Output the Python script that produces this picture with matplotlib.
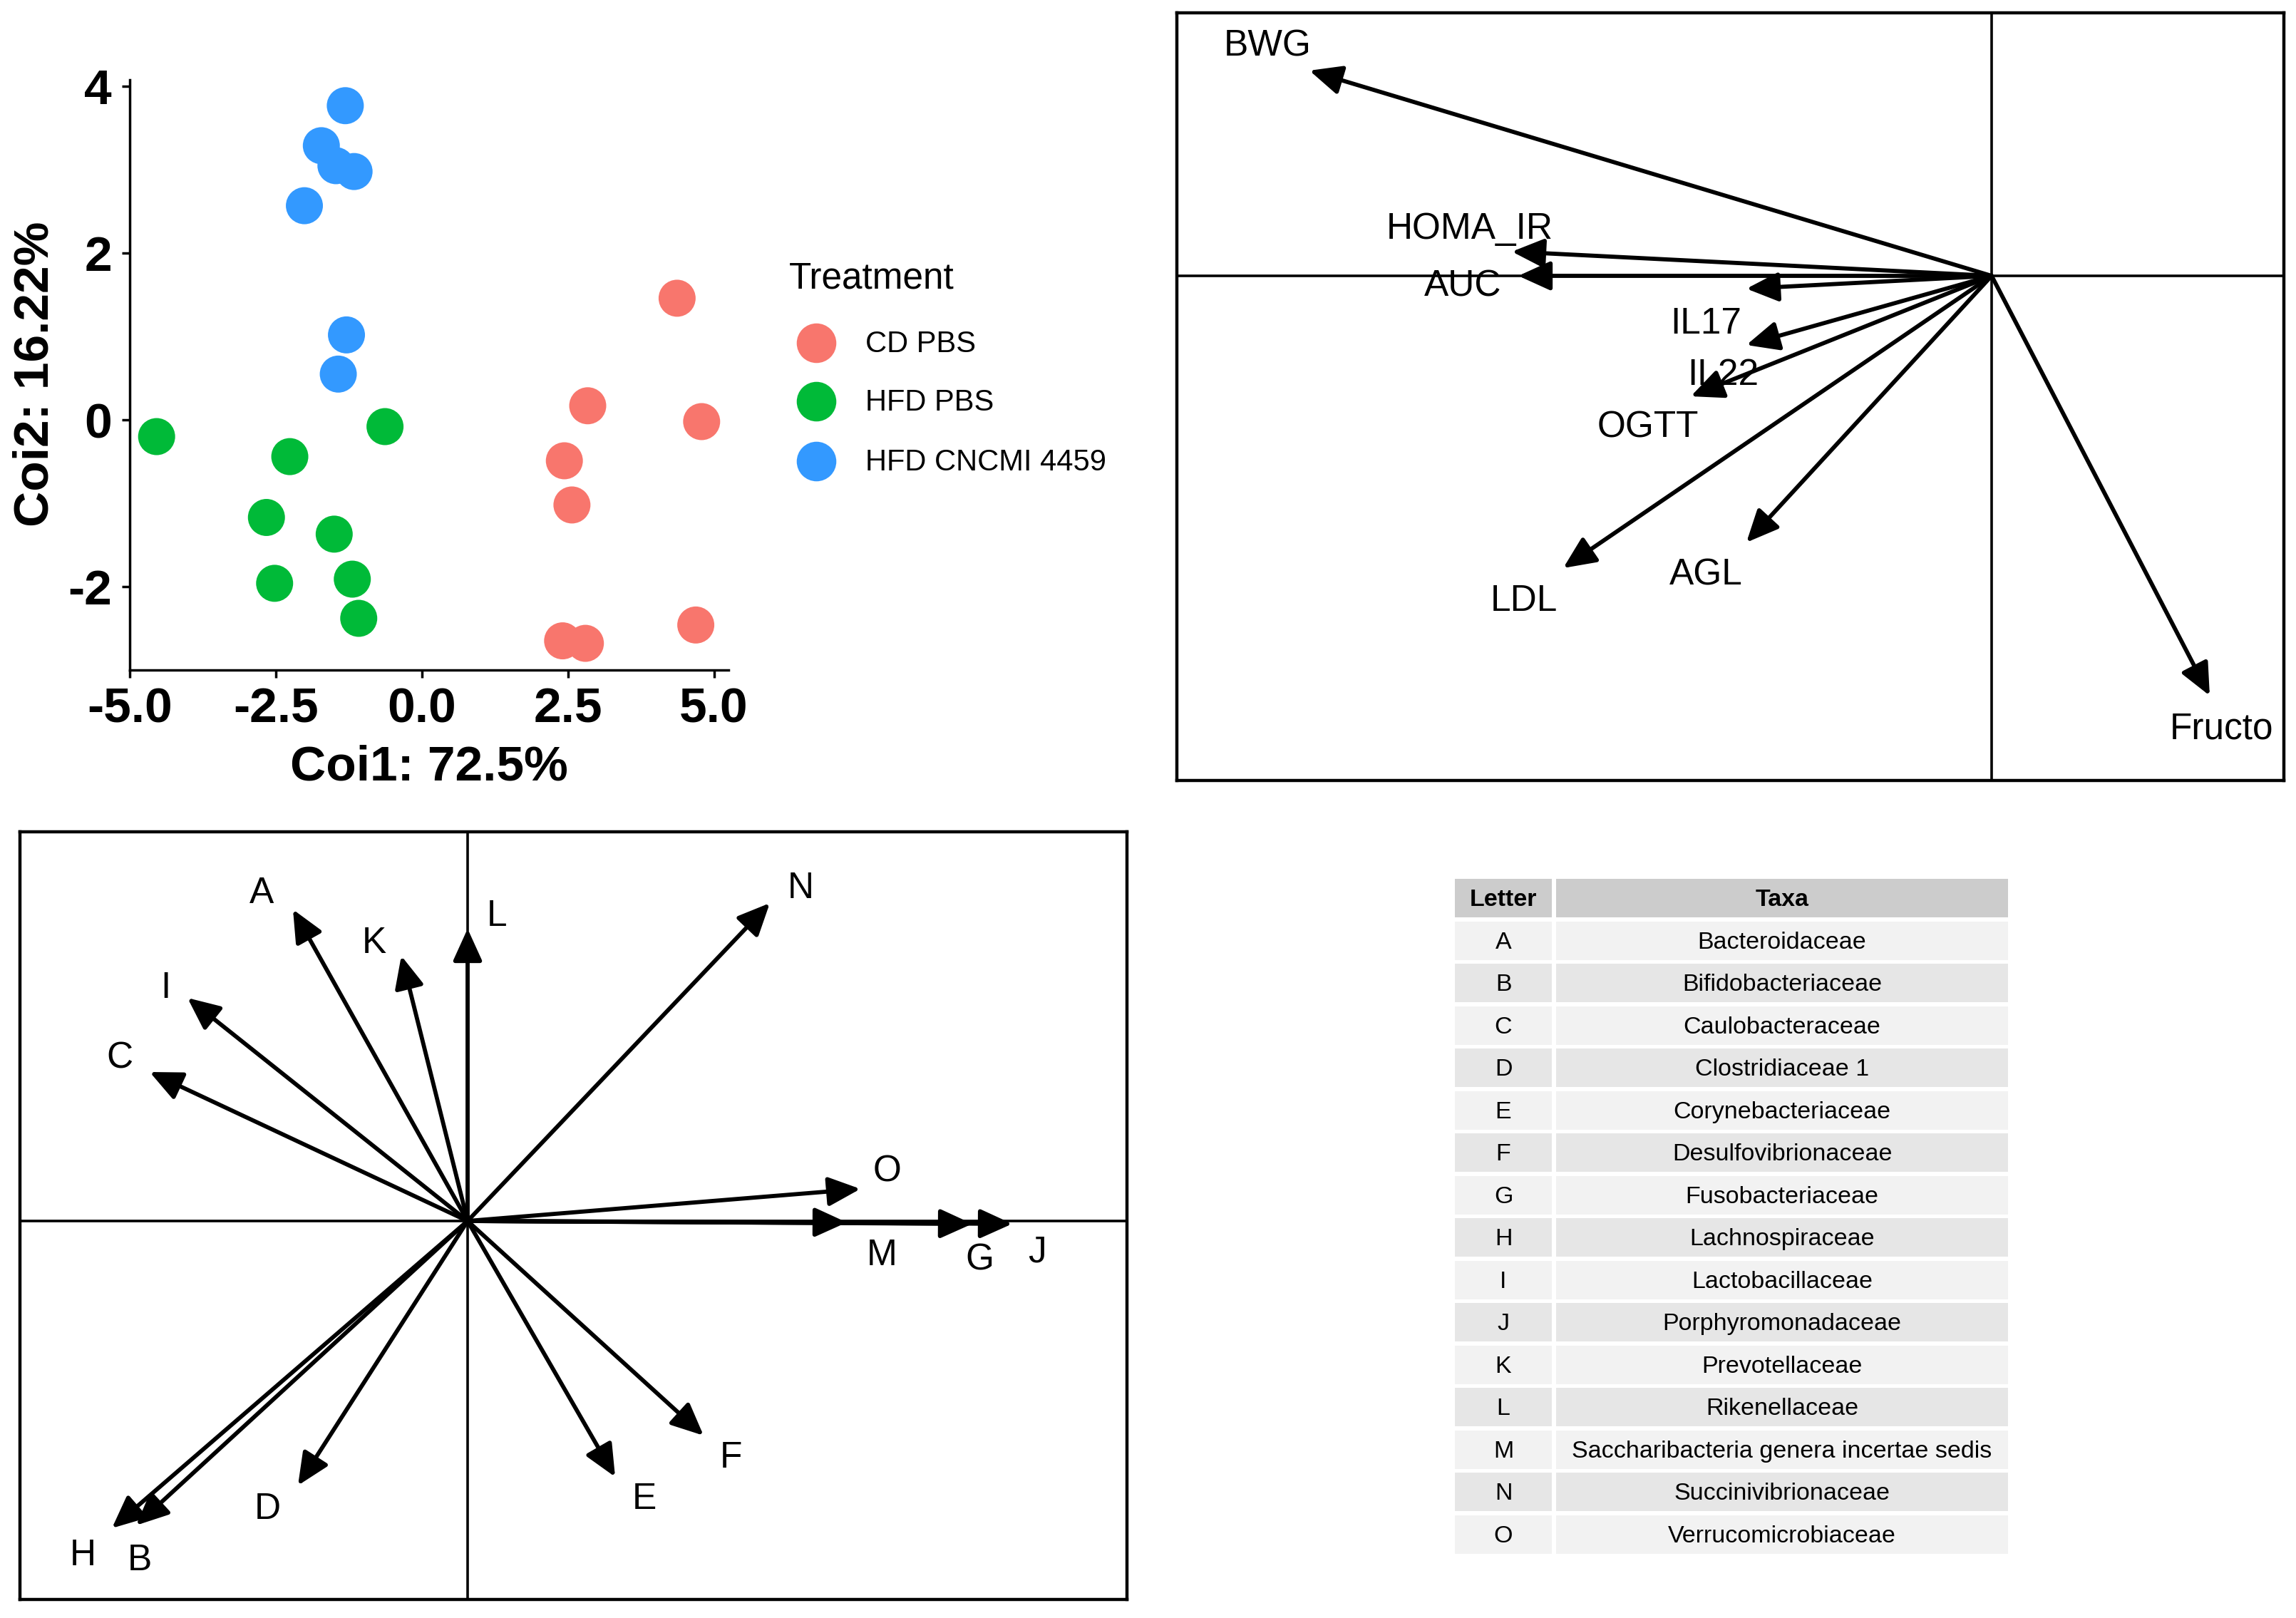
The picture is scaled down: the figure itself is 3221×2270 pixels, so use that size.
import matplotlib
matplotlib.use('Agg')
import matplotlib.pyplot as plt
from matplotlib.patches import Rectangle, FancyArrowPatch
from matplotlib.lines import Line2D
import matplotlib.transforms as mtransforms

W, H = 3221, 2270
plt.rcParams['font.family'] = ['Liberation Sans', 'DejaVu Sans']

# ---------------- data: co-inertia scores ----------------
groups = ['CD PBS', 'HFD PBS', 'HFD CNCMI 4459']
group_colors = ['#F8766D', '#00BA38', '#3399FF']
cd_x = [4.37, 2.84, 4.79, 2.44, 2.57, 4.69, 2.41, 2.80]
cd_y = [1.46, 0.17, -0.02, -0.49, -1.02, -2.46, -2.65, -2.68]
hfd_x = [-4.54, -2.26, -0.63, -2.66, -1.50, -2.52, -1.19, -1.08]
hfd_y = [-0.20, -0.44, -0.08, -1.17, -1.37, -1.96, -1.91, -2.38]
probio_x = [-1.31, -1.72, -1.47, -1.16, -2.01, -1.29, -1.43]
probio_y = [3.77, 3.29, 3.05, 2.98, 2.57, 1.02, 0.55]
x_ticks = [-5.0, -2.5, 0.0, 2.5, 5.0]
y_ticks = [-2, 0, 2, 4]

# ---------------- data: metabolic variable loadings ----------------
meta_names = ['BWG', 'HOMA_IR', 'AUC', 'IL17', 'IL22', 'OGTT', 'LDL', 'AGL', 'Fructo']
meta_x = [-2.3925, -1.6825, -1.66, -0.86, -0.86, -1.055, -1.5025, -0.86, 0.765]
meta_y = [0.72, 0.085, 0.0, -0.045, -0.2425, -0.4225, -1.025, -0.935, -1.4725]

# ---------------- data: taxa loadings ----------------
taxa_letters = ['A', 'B', 'C', 'D', 'E', 'F', 'G', 'H', 'I', 'J', 'K', 'L', 'M', 'N', 'O']
taxa_x = [-0.6125, -1.1625, -1.115, -0.595, 0.5175, 0.8275, 1.77, -1.2475, -0.9825,
          1.91, -0.2325, 0.0, 1.33, 1.06, 1.3775]
taxa_y = [1.0925, -1.0675, 0.5225, -0.9275, -0.8975, -0.7525, -0.01, -1.0775, 0.7825,
          -0.01, 0.93, 1.025, -0.005, 1.115, 0.1125]
taxa_names = ['Bacteroidaceae', 'Bifidobacteriaceae', 'Caulobacteraceae', 'Clostridiaceae 1',
              'Corynebacteriaceae', 'Desulfovibrionaceae', 'Fusobacteriaceae', 'Lachnospiraceae',
              'Lactobacillaceae', 'Porphyromonadaceae', 'Prevotellaceae', 'Rikenellaceae',
              'Saccharibacteria genera incertae sedis', 'Succinivibrionaceae', 'Verrucomicrobiaceae']

fig = plt.figure(figsize=(W / 100, H / 100), dpi=100)
fig.patch.set_facecolor('white')
px = mtransforms.Affine2D().scale(1 / W, -1 / H).translate(0, 1) + fig.transFigure


def rect(l, t, r, b):
    return [l / W, 1 - b / H, (r - l) / W, (b - t) / H]


# ================= Panel 1: scatter =================
ax1 = fig.add_axes(rect(182, 112, 1022, 940))
for gx, gy, col in [(cd_x, cd_y, group_colors[0]), (hfd_x, hfd_y, group_colors[1]),
                    (probio_x, probio_y, group_colors[2])]:
    ax1.scatter(gx, gy, s=1400, color=col, edgecolors='none', zorder=3)
ax1.set_xlim(-5.0, 5.25)
ax1.set_ylim(-3.0, 4.08)
ax1.set_xticks(x_ticks)
ax1.set_xticklabels(['%.1f' % v for v in x_ticks])
ax1.set_yticks(y_ticks)
ax1.set_yticklabels([str(v) for v in y_ticks])
for s in ['top', 'right']:
    ax1.spines[s].set_visible(False)
for s in ['left', 'bottom']:
    ax1.spines[s].set_linewidth(2.5)
    ax1.spines[s].set_color('black')
ax1.tick_params(axis='x', length=8, width=2.5, pad=9, labelsize=50)
ax1.tick_params(axis='y', length=8, width=2.5, pad=10, labelsize=50)
for lab in ax1.get_xticklabels() + ax1.get_yticklabels():
    lab.set_fontweight('bold')
ax1.set_xlabel('Coi1: 72.5%', fontsize=50, fontweight='bold')
ax1.set_ylabel('Coi2: 16.22%', fontsize=50, fontweight='bold')
ax1.xaxis.set_label_coords(0.5, -0.165)
ax1.xaxis.label.set_va('center')
ax1.yaxis.set_label_coords(-0.158, 0.502)
ax1.yaxis.label.set_va('center')

# legend (manual, ggplot style)
fig.text(1107, 391, 'Treatment', transform=px, fontsize=37, ha='left', va='center')
for i, (g, c) in enumerate(zip(groups, group_colors)):
    yy = [481, 563, 647][i]
    fig.add_artist(Line2D([1145], [yy], marker='o', markersize=40, color=c,
                          markeredgecolor='none', linestyle='none', transform=px))
    fig.text(1214, yy + 2, g, transform=px, fontsize=30, ha='left', va='center')


def biplot(ax, xs, ys, names, label_off, xlim, ylim):
    ax.set_xlim(*xlim)
    ax.set_ylim(*ylim)
    ax.axhline(0, color='black', lw=2.6, zorder=1)
    ax.axvline(0, color='black', lw=2.6, zorder=1)
    for x, y, n, (ox, oy) in zip(xs, ys, names, label_off):
        ar = FancyArrowPatch((0, 0), (x, y),
                             arrowstyle='-|>,head_length=0.55,head_width=0.25',
                             mutation_scale=50, lw=4.2, color='black',
                             shrinkA=0, shrinkB=0, zorder=3)
        ax.add_patch(ar)
        ax.text(x + ox, y + oy - 0.016, n, fontsize=37, ha='center', va='center', zorder=4)
    ax.set_xticks([])
    ax.set_yticks([])
    for s in ax.spines.values():
        s.set_linewidth(3.2)
        s.set_color('black')


# ================= Panel 2: metabolic variables =================
ax2 = fig.add_axes(rect(1651, 18, 3204, 1095))
meta_label_off = [(-0.1475, 0.10), (-0.1475, 0.095), (-0.195, -0.0225), (-0.1425, -0.1075),
                  (-0.0825, -0.09), (-0.15, -0.095), (-0.1375, -0.10), (-0.1425, -0.10),
                  (0.04, -0.1025)]
biplot(ax2, meta_x, meta_y, meta_names, meta_label_off, (-2.8575, 1.025), (-1.77, 0.9225))

# ================= Panel 3: taxa =================
ax3 = fig.add_axes(rect(28, 1167, 1581, 2244))
taxa_label_off = [(-0.11, 0.0725), (0.0125, -0.1075), (-0.105, 0.0625), (-0.1075, -0.0675),
                  (0.1025, -0.0625), (0.095, -0.0625), (0.025, -0.1125), (-0.1025, -0.08),
                  (-0.0775, 0.05), (0.0875, -0.085), (-0.095, 0.06), (0.1025, 0.06),
                  (0.1225, -0.10), (0.1075, 0.0675), (0.095, 0.075)]
biplot(ax3, taxa_x, taxa_y, taxa_letters, taxa_label_off, (-1.57, 2.3125), (-1.3275, 1.365))

# ================= Panel 4: legend table =================
ax4 = fig.add_axes(rect(2041, 1233, 2817, 2185))
n_rows = len(taxa_letters) + 1
ax4.set_xlim(0, 1)
ax4.set_ylim(n_rows, 0)
ax4.axis('off')
col1_r = 0.1753
col2_l = 0.183
gap = 0.085
header_bg = '#CCCCCC'
row_bgs = ['#F2F2F2', '#E6E6E6']
for i in range(n_rows):
    if i == 0:
        bg = header_bg
        t1, t2, fw = 'Letter', 'Taxa', 'bold'
    else:
        bg = row_bgs[(i - 1) % 2]
        t1, t2, fw = taxa_letters[i - 1], taxa_names[i - 1], 'normal'
    ax4.add_patch(Rectangle((0, i), col1_r, 1 - gap, facecolor=bg, edgecolor='none'))
    ax4.add_patch(Rectangle((col2_l, i), 1 - col2_l, 1 - gap, facecolor=bg, edgecolor='none'))
    yc = i + (1 - gap) / 2 + 0.04
    ax4.text(col1_r / 2, yc, t1, fontsize=24.5, fontweight=fw, ha='center', va='center')
    ax4.text((col2_l + 1) / 2, yc, t2, fontsize=24.5, fontweight=fw, ha='center', va='center')

fig.savefig('out.png', dpi=100, facecolor='white')
